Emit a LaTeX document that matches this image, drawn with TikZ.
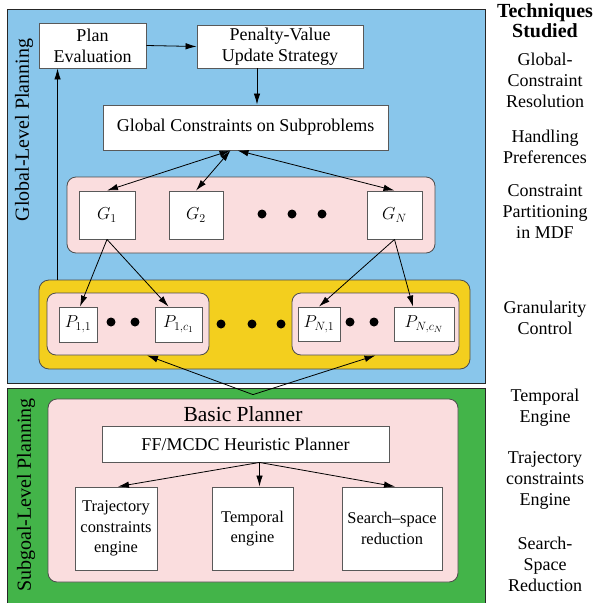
\documentclass[tikz,border=0pt]{standalone}
\usepackage{fontspec}
\setmainfont{Liberation Serif}
\usetikzlibrary{arrows.meta}

\definecolor{skyblue}{RGB}{137,198,235}
\definecolor{leafgreen}{RGB}{67,180,73}
\definecolor{gold}{RGB}{243,207,30}
\definecolor{blush}{RGB}{250,221,222}

\begin{document}
\begin{tikzpicture}[
  x = 1pt, y = -1pt,
  panel/.style = {
    shape = rectangle,
    draw = black!85,
    line width = 0.8pt,
    inner sep = 0pt,
  },
  group/.style = {
    shape = rectangle,
    rounded corners = 9pt,
    draw = black!70,
    fill = blush,
    line width = 0.8pt,
    inner sep = 0pt,
  },
  box/.style = {
    shape = rectangle,
    draw = black!65,
    fill = white,
    line width = 0.9pt,
    inner sep = 0pt,
    align = center,
    font = \fontsize{18}{21}\selectfont,
  },
  smallbox/.style = {
    box,
    font = \fontsize{16.4}{20.5}\selectfont,
  },
  dot/.style = {
    shape = circle,
    fill = black,
    minimum size = 9pt,
    inner sep = 0pt,
  },
  sidetext/.style = {
    align = center,
    font = \fontsize{18}{21}\selectfont,
  },
]
  \useasboundingbox (0, 0) rectangle (598, 603);

  % the two planning levels
  \node[panel, fill = skyblue, minimum width = 478pt, minimum height = 374pt] (global) at (246, 196) {};
  \node[panel, fill = leafgreen, minimum width = 478pt, minimum height = 218pt] (subgoal) at (246, 497) {};
  \node[rotate = 90, font = \fontsize{20}{24}\selectfont] (globallbl) at (24, 130) {Global-Level Planning};
  \node[rotate = 90, font = \fontsize{20}{24}\selectfont] (subgoallbl) at (26, 495) {Subgoal-Level Planning};

  % global level
  \node[box, minimum width = 107pt, minimum height = 45pt] (plan) at (92.5, 45.5) {Plan\\Evaluation};
  \node[box, minimum width = 166pt, minimum height = 43pt] (penalty) at (280, 46.5) {Penalty-Value\\Update Strategy};
  \node[box, minimum width = 285pt, minimum height = 45pt] (gc) at (245.5, 127.5) {Global Constraints on Subproblems};

  \node[group, minimum width = 368pt, minimum height = 76pt] (gpart) at (251, 215) {};
  \node[box, minimum width = 56pt, minimum height = 48pt] (g1) at (107, 215) {$G_1$};
  \node[box, minimum width = 54pt, minimum height = 48pt] (g2) at (196, 215) {$G_2$};
  \node[box, minimum width = 55pt, minimum height = 48pt] (gN) at (394.5, 215) {$G_N$};
  \foreach \x [count = \i] in {262, 292, 322}
    \node[dot] (gdot\i) at (\x, 214) {};

  \node[group, fill = gold, rounded corners = 10pt, minimum width = 431pt, minimum height = 89pt] (gran) at (254.5, 324.5) {};
  \node[group, minimum width = 162pt, minimum height = 62pt] (p1set) at (128, 324) {};
  \node[group, minimum width = 167pt, minimum height = 62pt] (pNset) at (375.5, 324) {};
  \node[box, minimum width = 38pt, minimum height = 35pt] (p11) at (78, 324.5) {$P_{1,1}$};
  \node[box, minimum width = 47pt, minimum height = 35pt] (p1c) at (178.5, 324.5) {$P_{1,c_1}$};
  \node[box, minimum width = 42pt, minimum height = 34pt] (pN1) at (319, 324) {$P_{N,1}$};
  \node[box, minimum width = 60pt, minimum height = 34pt] (pNc) at (424, 324) {$P_{N,c_N}$};
  \foreach \x [count = \i] in {111, 135}
    \node[dot] (p1dot\i) at (\x, 322) {};
  \foreach \x [count = \i] in {350, 374}
    \node[dot] (pNdot\i) at (\x, 322) {};
  \foreach \x [count = \i] in {221, 252, 281}
    \node[dot] (middot\i) at (\x, 324) {};

  % subgoal level
  \node[group, minimum width = 410pt, minimum height = 183pt] (basic) at (253, 490.5) {};
  \node[font = \fontsize{21.5}{25}\selectfont] (basiclbl) at (243, 414) {Basic Planner};
  \node[box, minimum width = 287pt, minimum height = 36pt] (ff) at (245.5, 444) {FF/MCDC Heuristic Planner};
  \node[smallbox, minimum width = 82pt, minimum height = 83pt] (traj) at (116, 528.5) {Trajectory\\constraints\\engine};
  \node[smallbox, minimum width = 81pt, minimum height = 83pt] (temp) at (252.5, 528.5) {Temporal\\engine};
  \node[smallbox, minimum width = 100pt, minimum height = 83pt] (search) at (392, 528.5) {Search--space\\reduction};

  % techniques column
  \node[align = center, font = \fontsize{20}{20}\bfseries] (techlbl) at (545, 21) {Techniques\\Studied};
  \node[sidetext] (t1) at (545, 80) {Global-\\Constraint\\Resolution};
  \node[sidetext] (t2) at (545, 147) {Handling\\Preferences};
  \node[sidetext] (t3) at (545, 212) {Constraint\\Partitioning\\in MDF};
  \node[sidetext] (t4) at (545, 318) {Granularity\\Control};
  \node[sidetext] (t5) at (545, 408) {Temporal\\Engine};
  \node[sidetext] (t6) at (545, 480) {Trajectory\\constraints\\Engine};
  \node[sidetext] (t7) at (545, 564) {Search-\\Space\\Reduction};

  \begin{scope}[every path/.style = { line width = 0.8pt, -{Latex[length = 11pt, width = 6.5pt]} }]
    \draw (plan.east) -- (penalty.west);
    \draw ([xshift = -23pt]penalty.south) -- ([xshift = -23pt]penalty.south |- gc.north);
    \draw[{Latex[length = 11pt, width = 6.5pt]}-{Latex[length = 11pt, width = 6.5pt]}] ([xshift = -15pt]gc.south) -- (g1.north);
    \draw[{Latex[length = 11pt, width = 6.5pt]}-{Latex[length = 11pt, width = 6.5pt]}] ([xshift = -15pt]gc.south) -- (g2.north);
    \draw[{Latex[length = 11pt, width = 6.5pt]}-{Latex[length = 11pt, width = 6.5pt]}] ([xshift = -8pt]gc.south) -- (gN.north);
    \draw ([xshift = 19pt]plan.south west |- gran.north) -- ([xshift = 19pt]plan.south west);
    \draw (g1.south) -- ([xshift = 2pt]p11.north);
    \draw (g1.south) -- ([xshift = -10pt]p1c.north);
    \draw (gN.south) -- (pN1.north);
    \draw (gN.south) -- ([xshift = -11pt]pNc.north);
    \draw ([yshift = 4pt]basic.north) -- ([xshift = 19pt]p1set.south);
    \draw ([yshift = 4pt]basic.north) -- (pNset.south);
    \draw ([xshift = 14pt]ff.south) -- ([xshift = 2pt]traj.north);
    \draw ([xshift = 14pt]ff.south) -- ([xshift = 14pt]ff.south |- temp.north);
    \draw ([xshift = 14pt]ff.south) -- ([xshift = 3pt]search.north);
  \end{scope}
\end{tikzpicture}
\end{document}
